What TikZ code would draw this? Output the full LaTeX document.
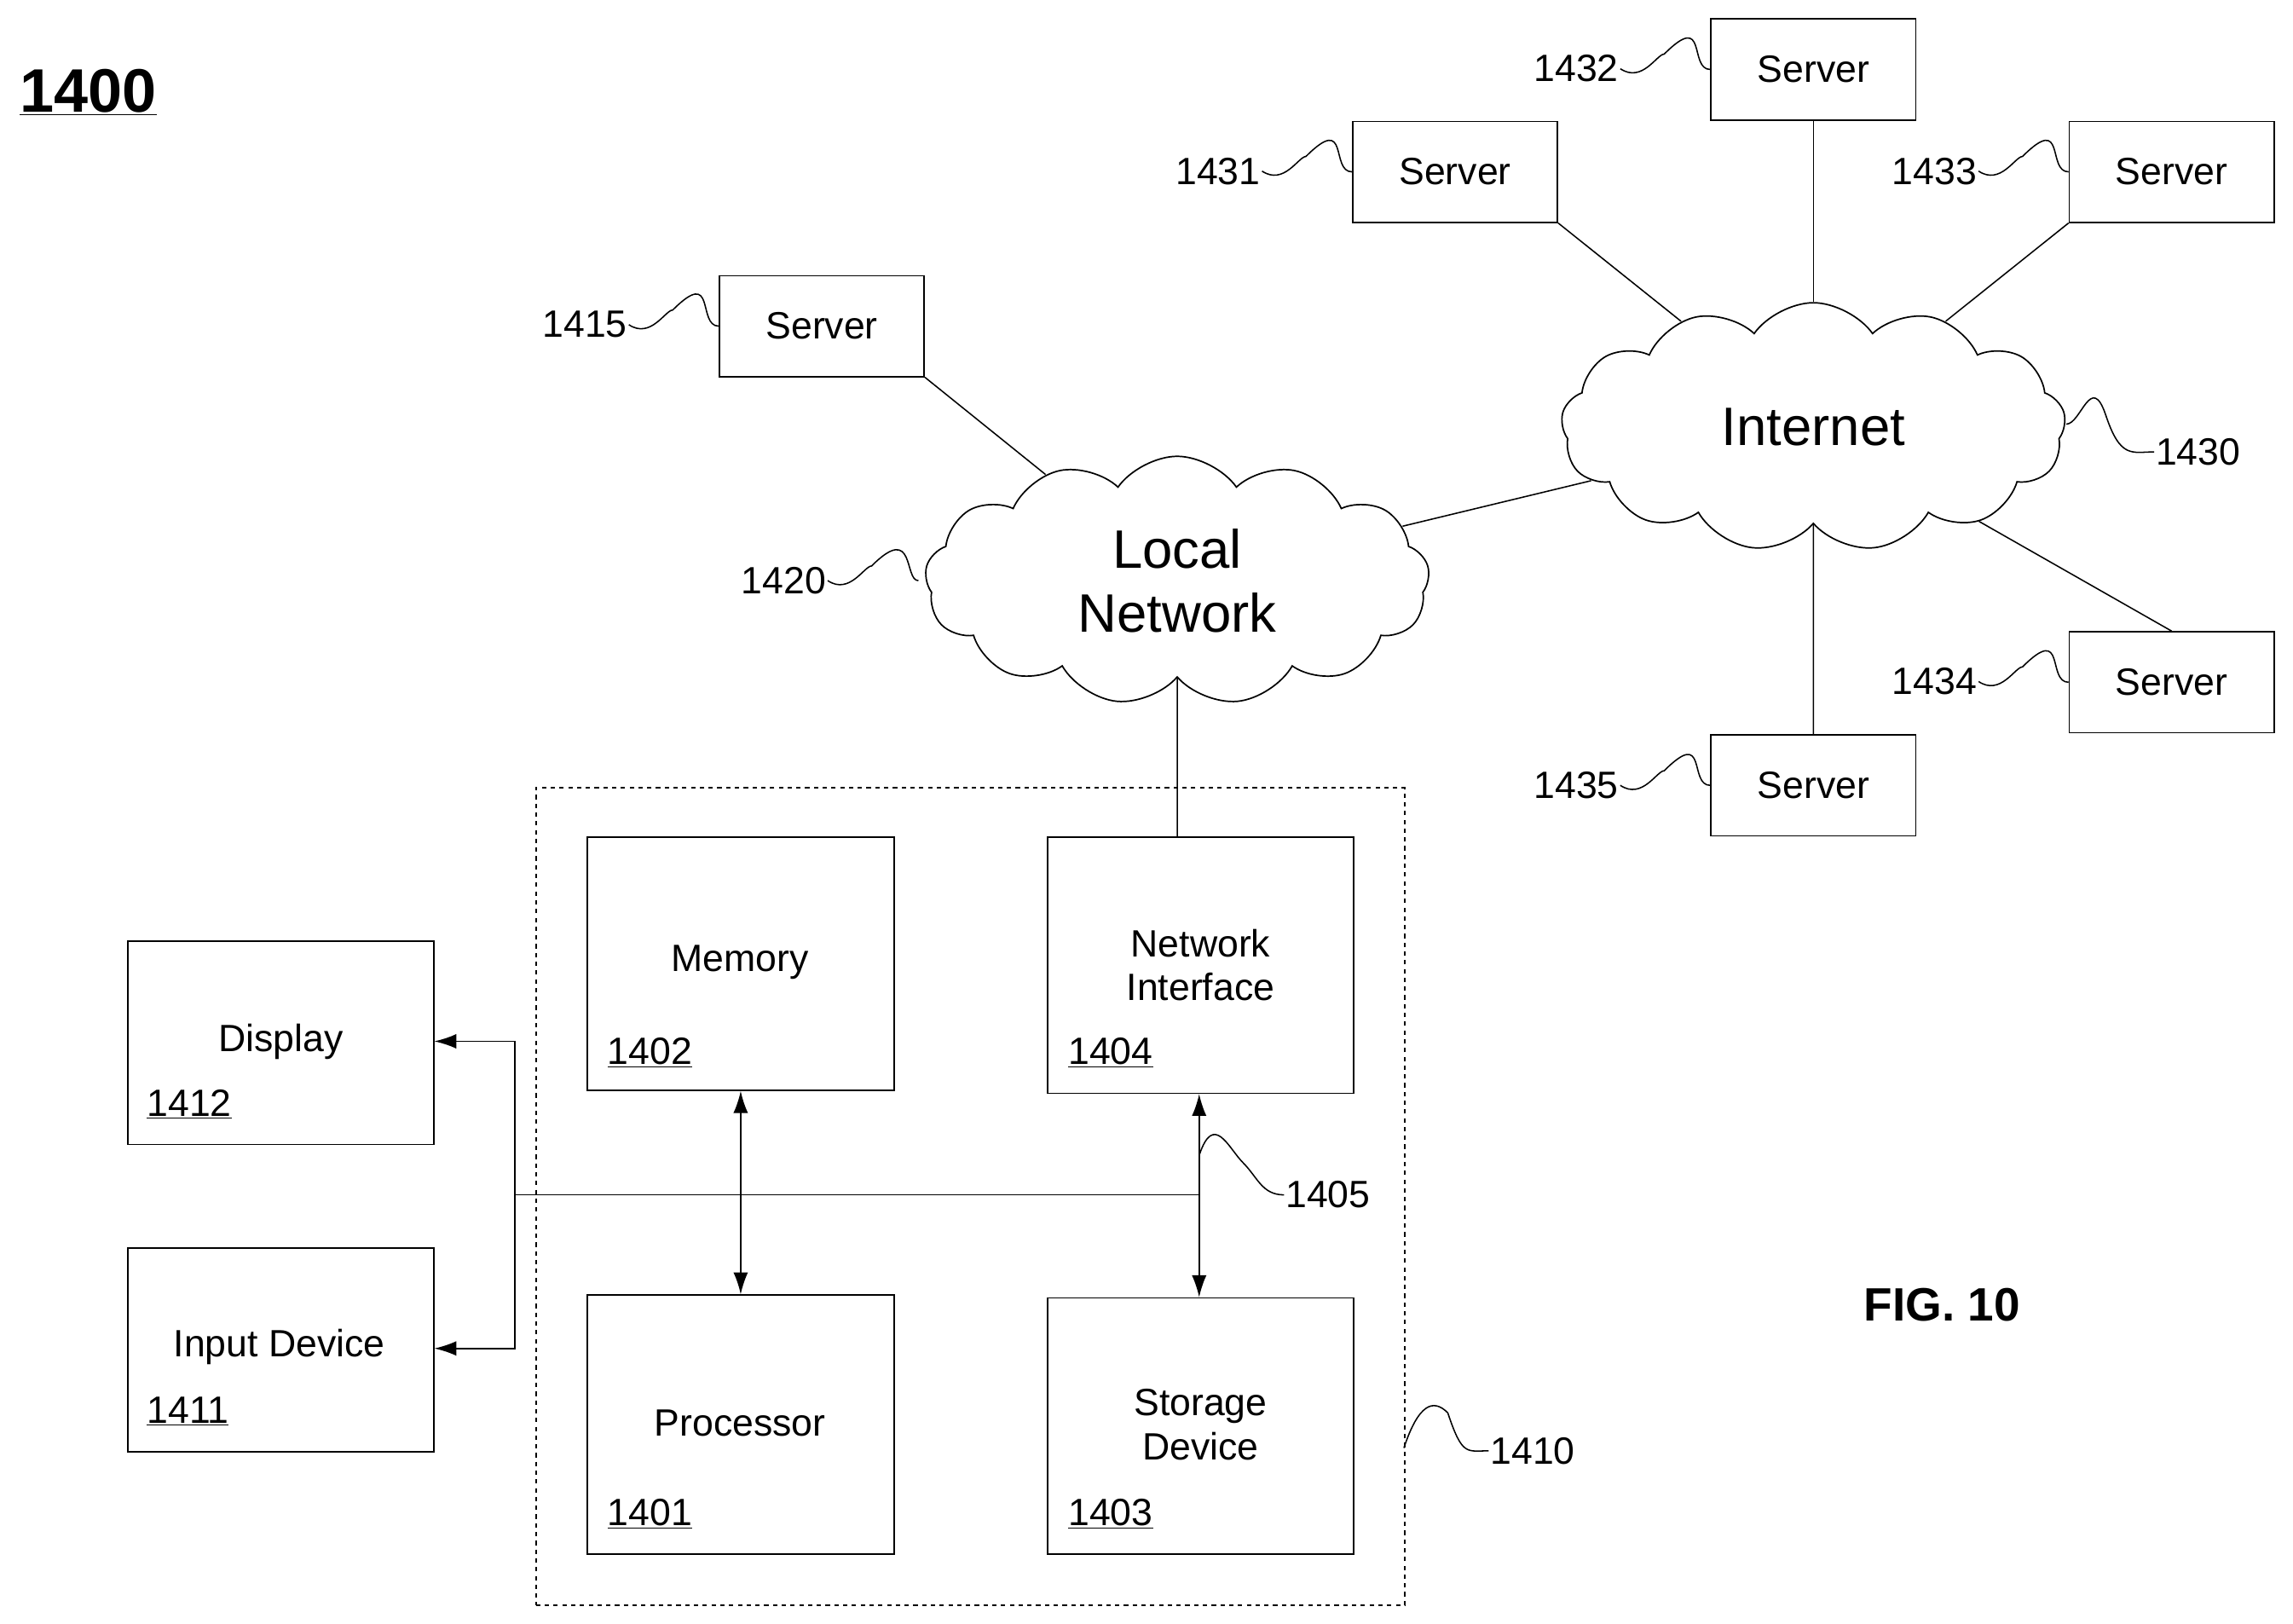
\documentclass[tikz,border=0pt]{standalone}
\usepackage{fontspec}
\setmainfont{Liberation Sans}
\usetikzlibrary{shapes.symbols,arrows.meta}
\begin{document}
\begin{tikzpicture}[x=1pt,y=-1pt,
  box/.style={draw,line width=1pt,anchor=north west,inner sep=0pt},
  srv/.style={draw,line width=1pt,minimum width=140pt,minimum height=69pt,font=\fontsize{26}{28}\selectfont},
  lbl/.style={font=\fontsize{26}{28}\selectfont,inner sep=1pt},
  txt/.style={font=\fontsize{26}{30}\selectfont,align=center},
  cl/.style={draw,cloud,cloud puffs=13,cloud puff arc=110,aspect=2,line width=1pt,minimum width=345pt,minimum height=170pt,font=\fontsize{37}{44}\selectfont,align=center},
  ln/.style={line width=0.9pt},
  arr/.style={line width=1pt,{Latex[length=15pt,width=10pt]}-{Latex[length=15pt,width=10pt]}},
  squig/.style={line width=0.9pt}]
\useasboundingbox (0,0) rectangle (1568,1110);
\node[font=\bfseries\fontsize{42}{44}\selectfont,anchor=west] (title) at (10,63) {\underline{1400}};
\node[font=\bfseries\fontsize{32}{34}\selectfont] (fig) at (1328,892) {FIG. 10};
% servers
\node[srv] (s1432) at (1240,47.5) {Server};
\node[srv] (s1431) at (995,117.5) {Server};
\node[srv] (s1433) at (1485,117.5) {Server};
\node[srv] (s1415) at (562,223) {Server};
\node[srv] (s1434) at (1485,466.5) {Server};
\node[srv] (s1435) at (1240,537) {Server};
% clouds
\node[cl] (inet) at (1240,292) {Internet};
\node[cl] (local) at (805,397) {Local\\Network};
% labels
\node[lbl,anchor=east] (l1432) at (1108,47) {1432};
\node[lbl,anchor=east] (l1431) at (863,117) {1431};
\node[lbl,anchor=east] (l1433) at (1353,117) {1433};
\node[lbl,anchor=east] (l1415) at (430,222) {1415};
\node[lbl,anchor=east] (l1434) at (1353,466) {1434};
\node[lbl,anchor=east] (l1435) at (1108,537) {1435};
\node[lbl,anchor=east] (l1420) at (566,397) {1420};
\node[lbl,anchor=west] (l1430) at (1473,309) {1430};
\node[lbl,anchor=west] (l1405) at (878,817) {1405};
\node[lbl,anchor=west] (l1410) at (1018,992) {1410};
% squiggles
\foreach \a/\b in {l1432/s1432,l1431/s1431,l1433/s1433,l1415/s1415,l1434/s1434,l1435/s1435}
  \draw[squig] (\a.east) .. controls +(15,10) and +(-5,0) .. +(30,-10) .. controls +(30,-30) and +(-15,0) .. (\b.west);
\draw[squig] (l1420.east) .. controls +(15,10) and +(-5,0) .. +(30,-10) .. controls +(30,-30) and +(-10,0) .. (628,397) coordinate (c1420);
\coordinate (c1430) at (1413,290);
\draw[squig] (c1430) .. controls +(10,0) and +(-10,-30) .. (1440,284) .. controls +(10,30) and +(-15,0) .. (l1430.west);
\coordinate (c1405) at (820,790);
\draw[squig] (c1405) .. controls +(10,-30) and +(-10,-10) .. (850,795) .. controls +(10,10) and +(-15,0) .. (l1405.west);
\coordinate (c1410) at (960,990);
\draw[squig] (c1410) .. controls +(10,-30) and +(-10,-10) .. (990,966) .. controls +(10,30) and +(-15,0) .. (l1410.west);
% network lines
\draw[ln] (s1415.south east) -- (local);
\draw[ln] (local) -- (inet);
\draw[ln] (s1431.south east) -- (inet);
\draw[ln] (s1432.south) -- (inet);
\draw[ln] (s1433.south west) -- (inet);
\draw[ln] (s1434.north) -- (inet);
\draw[ln] (s1435.north) -- (inet);
% computer
\node[box,dashed,minimum width=594pt,minimum height=559pt] (comp) at (366,538) {};
\node[box,minimum width=210pt,minimum height=173pt] (mem) at (401,572) {};
\node[box,minimum width=209pt,minimum height=175pt] (ni) at (716,572) {};
\node[box,minimum width=210pt,minimum height=177pt] (proc) at (401,885) {};
\node[box,minimum width=209pt,minimum height=175pt] (stor) at (716,887) {};
\node[box,minimum width=209pt,minimum height=139pt] (disp) at (87,643) {};
\node[box,minimum width=209pt,minimum height=139pt] (inp) at (87,853) {};
\node[txt] (tmem) at (506,658) {Memory};
\node[txt,anchor=west] (nmem) at (412,720) {\underline{1402}};
\node[txt] (tni) at (821,660) {Network\\Interface};
\node[txt,anchor=west] (nni) at (727,720) {\underline{1404}};
\node[txt] (tproc) at (506,973) {Processor};
\node[txt,anchor=west] (nproc) at (412,1035) {\underline{1401}};
\node[txt] (tstor) at (821,974) {Storage\\Device};
\node[txt,anchor=west] (nstor) at (727,1035) {\underline{1403}};
\node[txt] (tdisp) at (192,712) {Display};
\node[txt,anchor=west] (ndisp) at (97,755) {\underline{1412}};
\node[txt] (tinp) at (191,921) {Input Device};
\node[txt,anchor=west] (ninp) at (97,965) {\underline{1411}};
% bus
\draw[ln] (local) -- (ni.north -| local);
\coordinate (bl) at (352,817);
\coordinate (br) at (820,817);
\draw[ln] (bl) -- (br);
\draw[line width=1pt,-{Latex[length=15pt,width=10pt]}] (bl) -- (352,712) -- (disp.east |- 0,712);
\draw[line width=1pt,-{Latex[length=15pt,width=10pt]}] (bl) -- (352,922) -- (inp.east |- 0,922);
\draw[arr] (mem.south) -- (proc.north);
\draw[arr] (ni.south -| br) -- (stor.north -| br);
\end{tikzpicture}
\end{document}
